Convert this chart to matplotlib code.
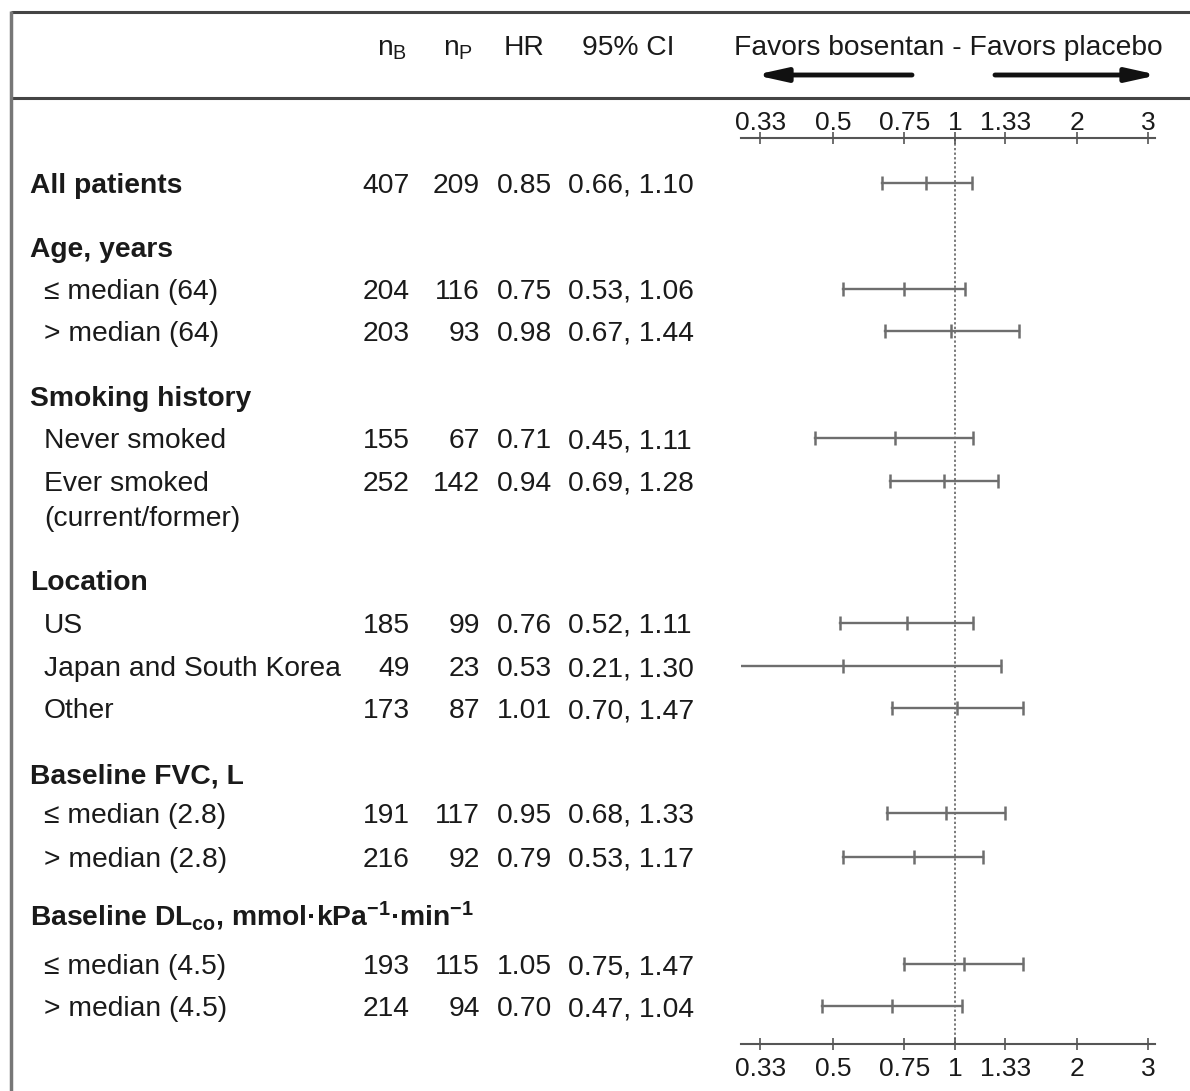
import matplotlib
matplotlib.use("Agg")
import matplotlib.pyplot as plt
from matplotlib.ticker import FixedLocator, FixedFormatter, NullLocator

plt.rcParams['font.family'] = ['Liberation Sans', 'DejaVu Sans']
plt.rcParams['mathtext.fontset'] = 'custom'
plt.rcParams['mathtext.rm'] = 'Liberation Sans'
plt.rcParams['mathtext.it'] = 'Liberation Sans:italic'
plt.rcParams['mathtext.bf'] = 'Liberation Sans:bold'

# ---------------- data ----------------
labels = ["All patients", "Age, years", "≤ median (64)", "> median (64)",
          "Smoking history", "Never smoked", "Ever smoked\n(current/former)",
          "Location", "US", "Japan and South Korea", "Other",
          "Baseline FVC, L", "≤ median (2.8)", "> median (2.8)",
          r"Baseline DL$_\mathbf{co}$, mmol·kPa$^\mathbf{-1}$·min$^\mathbf{-1}$",
          "≤ median (4.5)", "> median (4.5)"]
is_heading = [True, True, False, False, True, False, False, True, False, False, False,
              True, False, False, True, False, False]
n_bosentan = [407, None, 204, 203, None, 155, 252, None, 185, 49, 173, None, 191, 216, None, 193, 214]
n_placebo = [209, None, 116, 93, None, 67, 142, None, 99, 23, 87, None, 117, 92, None, 115, 94]
hr = [0.85, None, 0.75, 0.98, None, 0.71, 0.94, None, 0.76, 0.53, 1.01, None, 0.95, 0.79, None, 1.05, 0.70]
ci_low = [0.66, None, 0.53, 0.67, None, 0.45, 0.69, None, 0.52, 0.21, 0.70, None, 0.68, 0.53, None, 0.75, 0.47]
ci_high = [1.10, None, 1.06, 1.44, None, 1.11, 1.28, None, 1.11, 1.30, 1.47, None, 1.33, 1.17, None, 1.47, 1.04]
tick_values = [0.33, 0.5, 0.75, 1, 1.33, 2, 3]
tick_labels = ["0.33", "0.5", "0.75", "1", "1.33", "2", "3"]

# ---------------- layout (pixel units) ----------------
W, H = 1190, 1091
row_y = [183, 247, 289, 331, 396, 438, 481, 580, 623, 666, 708, 773, 813, 857, 916, 964, 1006]
FS = 20.3
TXT = '#1a1a1a'
BL = 10  # baseline offset below row centre

fig = plt.figure(figsize=(W / 100, H / 100), dpi=100)
bg = fig.add_axes([0, 0, 1, 1])
bg.set_xlim(0, W)
bg.set_ylim(H, 0)
bg.axis('off')

# frame lines
bg.plot([11, W], [12, 12], color='#444444', lw=2.2, solid_capstyle='butt')
bg.plot([11, W], [98, 98], color='#444444', lw=2.2, solid_capstyle='butt')
bg.plot([11, 11], [11, H], color='#777777', lw=2.5, solid_capstyle='butt')

# header
HY = 55
kw = dict(fontsize=FS, ha='center', va='baseline', color=TXT)
bg.text(392, HY, r"n$_\mathrm{B}$", **kw)
bg.text(458, HY, r"n$_\mathrm{P}$", **kw)
bg.text(524, HY, "HR", **kw)
bg.text(628, HY, "95% CI", **kw)
bg.text(948, HY, "Favors bosentan - Favors placebo", **kw)
arrow_style = dict(arrowstyle='-|>,head_length=0.9,head_width=0.2', lw=3.5, color='#111111',
                   mutation_scale=20, shrinkA=0, shrinkB=0)
bg.annotate('', xy=(755, 75), xytext=(912, 75), arrowprops=arrow_style)
bg.annotate('', xy=(1158, 75), xytext=(995, 75), arrowprops=arrow_style)

# table rows
for lab, head, y, nb, npl, h, lo, hi in zip(labels, is_heading, row_y, n_bosentan, n_placebo, hr, ci_low, ci_high):
    ty = y + BL
    if head:
        bg.text(30, ty, lab, fontsize=FS, fontweight='bold', ha='left', va='baseline', color=TXT)
    else:
        if "\n" in lab:
            first, second = lab.split("\n")
            bg.text(44, ty, first, fontsize=FS, ha='left', va='baseline', color=TXT)
            bg.text(44, ty + 35, second, fontsize=FS, ha='left', va='baseline', color=TXT)
        else:
            bg.text(44, ty, lab, fontsize=FS, ha='left', va='baseline', color=TXT)
    if nb is not None:
        bg.text(410, ty, f"{nb}", fontsize=FS, ha='right', va='baseline', color=TXT)
        bg.text(480, ty, f"{npl}", fontsize=FS, ha='right', va='baseline', color=TXT)
        bg.text(497, ty, f"{h:.2f}", fontsize=FS, ha='left', va='baseline', color=TXT)
        bg.text(568, ty, f"{lo:.2f}, {hi:.2f}", fontsize=FS, ha='left', va='baseline', color=TXT)

# ---------------- forest axes ----------------
x0, x1 = 741, 1155
y_top, y_bot = 138, 1044
ax = fig.add_axes([x0 / W, 1 - y_bot / H, (x1 - x0) / W, (y_bot - y_top) / H])
ax.set_facecolor('none')
ax.set_xscale('log')
xmin, xmax = 0.296, 3.12
ax.set_xlim(xmin, xmax)
ax.set_ylim(y_bot, y_top)
for s in ['left', 'right']:
    ax.spines[s].set_visible(False)
for s in ['top', 'bottom']:
    ax.spines[s].set_color('#555555')
    ax.spines[s].set_linewidth(1.5)
ax.yaxis.set_major_locator(NullLocator())
ax.xaxis.set_major_locator(FixedLocator(tick_values))
ax.xaxis.set_major_formatter(FixedFormatter(tick_labels))
ax.xaxis.set_minor_locator(NullLocator())
ax.tick_params(axis='x', which='major', top=True, bottom=True, labeltop=False, labelbottom=True,
               direction='inout', length=9, width=1.2, color='#555555',
               labelsize=19, labelcolor=TXT, pad=5)

# top tick labels on a secondary axis so they get their own padding
sec = ax.secondary_xaxis('top')
sec.set_xscale('log')
sec.xaxis.set_major_locator(FixedLocator(tick_values))
sec.xaxis.set_major_formatter(FixedFormatter(tick_labels))
sec.xaxis.set_minor_locator(NullLocator())
sec.spines['top'].set_visible(False)
sec.tick_params(axis='x', which='major', length=0, labelsize=19, labelcolor=TXT, pad=2)

ax.axvline(1, color='#555555', lw=1.1, linestyle=(0, (1.5, 1.5)), zorder=1)

BAR = '#6e6e6e'
for y, h, lo, hi in zip(row_y, hr, ci_low, ci_high):
    if h is None:
        continue
    ax.plot([max(lo, xmin), hi], [y, y], color=BAR, lw=1.7, zorder=2)
    ax.plot([h], [y], marker='|', color=BAR, markersize=10, mew=1.8, zorder=3)
    ax.plot([hi], [y], marker='|', color=BAR, markersize=10, mew=1.8, zorder=3)
    if lo >= xmin:
        ax.plot([lo], [y], marker='|', color=BAR, markersize=10, mew=1.8, zorder=3)

fig.savefig("out.png", dpi=100, facecolor='white')
